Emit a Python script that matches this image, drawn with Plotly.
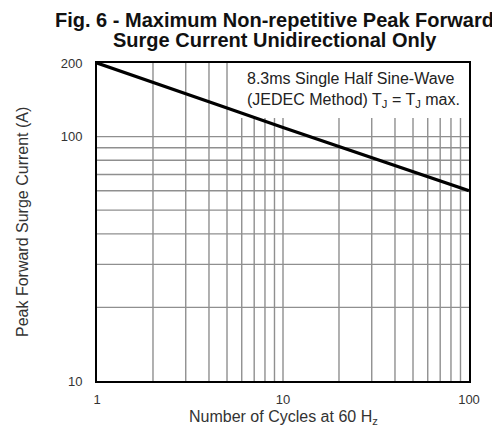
import plotly.graph_objects as go

cycles = [1, 2, 5, 10, 20, 50, 100]
surge_current = [200, 167, 131, 109, 91, 72, 60]

x_ticks = [1, 10, 100]
y_ticks = [10, 100, 200]
x_grid = [2, 3, 4, 5, 6, 7, 8, 9, 10, 20, 30, 40, 50, 60, 70, 80, 90]
y_grid = [20, 30, 40, 50, 60, 70, 80, 90, 100]

fig = go.Figure()

GRID = "#8f8f8f"
shapes = []
for gx in x_grid:
    shapes.append(dict(type="line", xref="x", yref="paper", x0=gx, x1=gx, y0=0, y1=1,
                       line=dict(color=GRID, width=1.4), layer="below"))
for gy in y_grid:
    shapes.append(dict(type="line", xref="paper", yref="y", x0=0, x1=1, y0=gy, y1=gy,
                       line=dict(color=GRID, width=1.4), layer="below"))
# white box behind annotation text
shapes.append(dict(type="rect", xref="paper", yref="paper", x0=0.379, x1=1, y0=0.827, y1=1,
                   fillcolor="white", line=dict(width=0), layer="below"))

fig.add_trace(go.Scatter(x=cycles, y=surge_current, mode="lines",
                         line=dict(color="black", width=3.2), showlegend=False,
                         hoverinfo="skip"))

TFONT = "Liberation Sans, Arial, sans-serif"
fig.update_layout(
    width=500, height=437,
    margin=dict(l=89, r=39, t=55, b=64),
    paper_bgcolor="white", plot_bgcolor="white",
    font=dict(family=TFONT, color="#222"),
    xaxis=dict(type="log", range=[0, 2], tickvals=x_ticks, ticktext=[str(v) for v in x_ticks],
               showgrid=False, zeroline=False, showline=True, linecolor="black", linewidth=2,
               mirror=True, ticks="", tickfont=dict(size=13, color="#333"),
               ticklabelstandoff=5),
    yaxis=dict(type="log", range=[1, 2.30103], tickvals=y_ticks, ticktext=[str(v) for v in y_ticks],
               showgrid=False, zeroline=False, showline=True, linecolor="black", linewidth=2,
               mirror=True, ticks="", tickfont=dict(size=13, color="#333"),
               ticklabelstandoff=10),
    shapes=shapes,
    annotations=[
        dict(text="<b>Fig. 6 - Maximum Non-repetitive Peak Forward</b>",
             xref="paper", yref="paper", x=0.478, y=1.135, xanchor="center", yanchor="middle",
             showarrow=False, font=dict(size=20, color="#111", family=TFONT)),
        dict(text="<b>Surge Current Unidirectional Only</b>",
             xref="paper", yref="paper", x=0.478, y=1.072, xanchor="center", yanchor="middle",
             showarrow=False, font=dict(size=20, color="#111", family=TFONT)),
        dict(text="Number of Cycles at 60 H<sub>z</sub>",
             xref="paper", yref="paper", x=0.5, y=-0.116, xanchor="center", yanchor="middle",
             showarrow=False, font=dict(size=16, color="#333")),
        dict(text="Peak Forward Surge Current (A)", textangle=-90,
             xref="paper", yref="paper", x=-0.2016, y=0.5, xanchor="center", yanchor="middle",
             showarrow=False, font=dict(size=16, color="#333")),
        dict(text="8.3ms Single Half Sine-Wave<br>(JEDEC Method) T<sub>J</sub> = T<sub>J</sub> max.",
             xref="paper", yref="paper", x=0.981, y=0.984, xanchor="right", yanchor="top",
             align="left", showarrow=False, font=dict(size=16, color="#222")),
    ],
)

fig.write_html("out.html")
